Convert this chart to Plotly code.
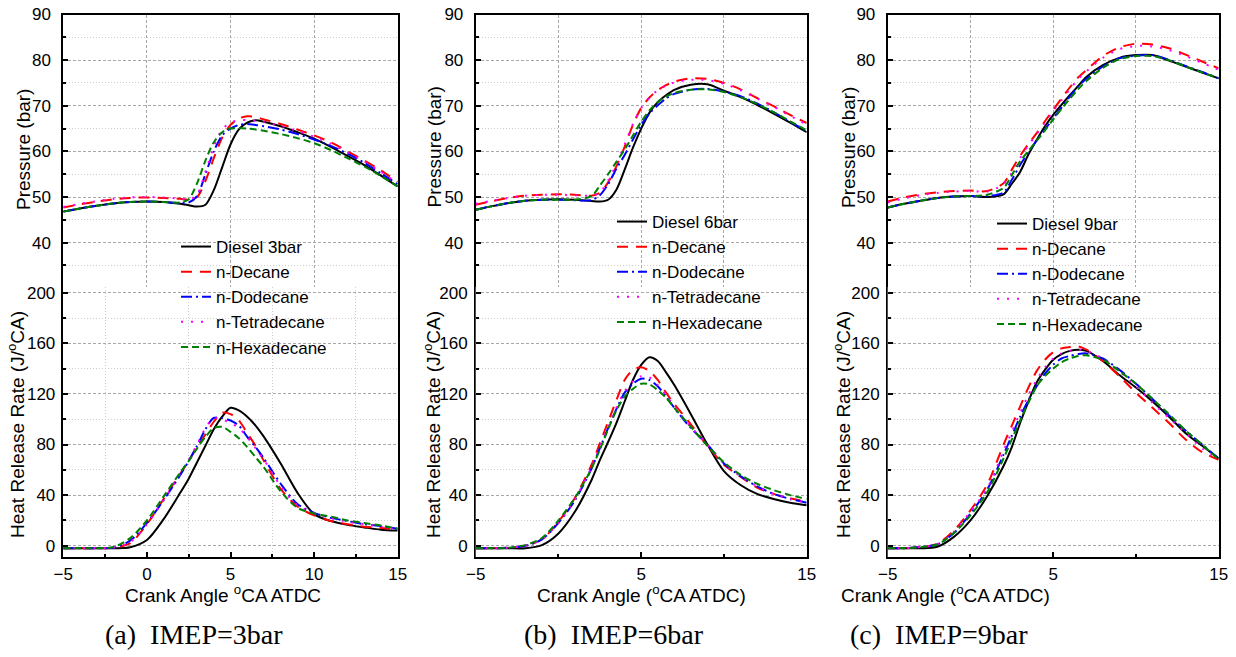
import plotly.graph_objects as go

W, H = 1236, 657

# ---------------- data ----------------
CRANK = [-5, -4, -3, -2, -1, 0, 1, 2, 2.5, 3, 3.5, 4, 4.5, 5, 5.5, 6, 6.5, 7, 8, 9, 10, 11, 12, 13, 14, 15]

SERIES = ["Diesel", "n-Decane", "n-Dodecane", "n-Tetradecane", "n-Hexadecane"]
DIESEL_LABELS = ["Diesel 3bar", "Diesel 6bar", "Diesel 9bar"]
CAPTIONS = ["(a)\u00a0\u00a0IMEP=3bar", "(b)\u00a0\u00a0IMEP=6bar", "(c)\u00a0\u00a0IMEP=9bar"]
XTITLES = ["Crank Angle <sup>o</sup>CA ATDC", "Crank Angle (<sup>o</sup>CA ATDC)", "Crank Angle (<sup>o</sup>CA ATDC)"]

# IMEP = 3 bar : pressure (bar)
P3_DIESEL = [46.8, 47.5, 48.1, 48.6, 48.9, 49.0, 48.9, 48.5, 48.2, 47.9, 48.3, 51.5, 56.5, 61.5, 64.8, 66.3, 66.8, 66.5, 65.5, 64.2, 62.8, 61.0, 59.0, 57.0, 54.7, 52.3]
P3_DECANE = [47.7, 48.4, 49.0, 49.5, 49.8, 49.9, 49.8, 49.6, 49.4, 50.0, 53.5, 58.5, 63.0, 65.8, 67.2, 67.7, 67.5, 67.0, 66.0, 64.8, 63.5, 62.0, 60.0, 58.0, 55.8, 53.3]
P3_DODECANE = [46.8, 47.5, 48.1, 48.6, 48.9, 49.0, 48.9, 48.7, 48.8, 50.2, 55.0, 60.0, 63.5, 65.0, 65.8, 66.0, 65.8, 65.5, 64.8, 63.8, 62.6, 61.2, 59.5, 57.5, 55.2, 52.8]
P3_TETRA = [47.8, 48.5, 49.1, 49.6, 49.9, 50.0, 49.9, 49.6, 49.4, 50.5, 55.5, 61.0, 64.8, 66.3, 66.8, 66.9, 66.7, 66.4, 65.6, 64.5, 63.2, 61.7, 59.8, 57.8, 55.5, 53.0]
P3_HEXA = [46.8, 47.5, 48.1, 48.6, 48.9, 49.0, 48.9, 48.8, 49.5, 53.0, 58.0, 62.0, 64.2, 65.0, 65.1, 65.0, 64.8, 64.5, 63.8, 62.9, 61.8, 60.3, 58.5, 56.7, 54.6, 52.3]
# IMEP = 3 bar : heat release rate (J/oCA)
H3_DIESEL = [-2, -2, -2, -2, -1.2, 4.5, 21, 42, 53, 66, 79, 92, 102, 109, 107, 102, 95, 86, 65, 42, 25, 19.5, 16.5, 14.5, 12.7, 12]
H3_DECANE = [-2, -2, -2, -1.5, 2, 17, 37, 57, 67, 78, 88, 98, 105, 104, 99, 89, 79, 67, 45, 31, 24, 19.5, 17, 15, 14, 13]
H3_DODECANE = [-2, -2, -2, -1.5, 4, 18, 36, 56, 67, 79, 92, 101, 101, 99, 95, 86, 78, 69, 49, 33, 26, 22, 19.5, 17, 15.5, 13.5]
H3_TETRA = [-2, -2, -2, -1.5, 3, 17, 36, 57, 68, 80, 93, 101, 100, 97, 93, 86, 77, 68, 47, 32, 26, 22, 19, 17, 15, 13]
H3_HEXA = [-2, -2, -2, -1, 6, 20, 39, 58, 67, 77, 86, 93, 94, 90, 85, 78, 70, 62, 43, 30, 25.5, 23, 20, 18, 16, 13.5]

# IMEP = 6 bar
P6_DIESEL = [47.2, 48.0, 48.7, 49.2, 49.4, 49.5, 49.4, 49.1, 49.0, 49.4, 51.6, 56.0, 60.8, 65.0, 68.5, 70.8, 72.3, 73.5, 74.6, 74.7, 73.3, 71.9, 70.2, 68.3, 66.3, 64.2]
P6_DECANE = [48.3, 49.1, 49.8, 50.3, 50.5, 50.6, 50.5, 50.3, 50.9, 53.2, 56.7, 61.0, 65.8, 69.5, 71.8, 73.4, 74.5, 75.3, 76.0, 75.9, 75.0, 73.6, 71.7, 69.9, 68.0, 66.2]
P6_DODECANE = [47.2, 48.0, 48.7, 49.2, 49.4, 49.4, 49.3, 49.3, 50.4, 52.8, 56.2, 59.2, 62.6, 65.8, 68.3, 70.1, 71.6, 72.6, 73.5, 73.7, 73.1, 72.1, 70.5, 68.6, 66.5, 64.4]
P6_TETRA = [48.5, 49.2, 49.8, 50.3, 50.5, 50.5, 50.4, 50.3, 51.0, 53.6, 57.2, 61.5, 66.0, 69.5, 71.8, 73.4, 74.4, 75.1, 75.7, 75.6, 74.8, 73.4, 71.6, 69.8, 67.8, 65.9]
P6_HEXA = [47.2, 48.0, 48.7, 49.2, 49.4, 49.4, 49.4, 50.2, 52.5, 55.0, 57.7, 60.4, 63.5, 66.5, 69.0, 70.8, 72.0, 72.8, 73.5, 73.6, 73.0, 71.9, 70.4, 68.6, 66.6, 64.6]
H6_DIESEL = [-2, -2, -2, -2, 0.5, 9.7, 27, 52, 67.6, 82, 97, 114, 131, 143, 149, 146, 137, 127, 104, 80, 59, 48, 41, 37, 34, 32]
H6_DECANE = [-2, -2, -1.5, 0, 5, 19, 38, 64, 81, 98, 115, 131, 139, 141, 138, 131, 121, 112, 96, 79, 64, 54.5, 46, 41, 37.5, 34.7]
H6_DODECANE = [-2, -2, -1.5, 0, 5, 18, 36, 61, 77, 93, 108, 121, 128, 132, 131, 126, 118, 109, 93, 80, 65, 55, 47, 41, 37, 34]
H6_TETRA = [-2, -2, -1.5, 0, 5, 18, 37, 62, 78, 94, 109, 122, 130, 134, 133, 127, 119, 110, 94, 80, 65, 55, 47, 41, 37, 34]
H6_HEXA = [-2, -2, -1.5, 0.5, 6, 20, 38, 61, 76, 92, 107, 118, 124, 128, 127.6, 123, 117, 109, 94, 79, 66, 56, 49, 44, 40, 37]

# IMEP = 9 bar
P9_DIESEL = [47.7, 48.5, 49.2, 49.8, 50.1, 50.2, 50.0, 50.6, 52.9, 55.5, 59.3, 62.5, 65.5, 68.0, 70.2, 72.3, 74.3, 76.3, 78.9, 80.5, 81.1, 81.1, 79.9, 78.6, 77.3, 76.0]
P9_DECANE = [49.0, 49.9, 50.6, 51.0, 51.3, 51.4, 51.3, 53.0, 56.0, 59.0, 61.6, 64.0, 66.6, 69.1, 71.6, 74.0, 76.2, 77.8, 80.9, 82.8, 83.6, 83.4, 82.6, 81.2, 79.7, 78.2]
P9_DODECANE = [47.7, 48.5, 49.2, 49.8, 50.1, 50.2, 50.2, 51.0, 53.8, 57.0, 59.8, 62.4, 64.8, 67.2, 69.6, 72.0, 74.2, 75.9, 78.6, 80.4, 81.0, 81.1, 80.1, 78.7, 77.4, 76.0]
P9_TETRA = [48.8, 49.7, 50.4, 50.9, 51.2, 51.3, 51.2, 52.8, 55.3, 58.5, 61.3, 63.8, 66.3, 68.8, 71.2, 73.6, 75.8, 77.5, 80.5, 82.4, 83.1, 83.0, 82.2, 80.9, 79.4, 77.9]
P9_HEXA = [47.7, 48.5, 49.2, 49.8, 50.1, 50.2, 50.5, 52.0, 54.8, 57.8, 60.1, 62.3, 64.6, 67.0, 69.3, 71.5, 73.6, 75.4, 78.3, 80.2, 80.9, 80.9, 80.0, 78.6, 77.3, 76.0]
H9_DIESEL = [-2, -2, -2, -0.8, 7, 20, 39, 63, 78, 97, 114, 129, 139, 147, 151.5, 154, 155, 154, 146, 135, 125, 114, 102, 89, 79, 69]
H9_DECANE = [-2, -2, -1, 1.5, 12, 28, 48, 80, 95, 110, 125, 138, 147, 153, 156, 157, 157.5, 155, 146, 134, 121, 109, 97, 84, 74, 68]
H9_DODECANE = [-2, -2, -1, 1, 10, 25.5, 44, 72, 87, 102, 115, 126, 136, 143, 148, 150, 151.5, 152, 148, 139, 128, 116, 103, 91, 80, 69]
H9_TETRA = [-2, -2, -1, 1.2, 11, 27, 45, 75, 90, 105, 119, 131, 141, 148, 152, 154, 155, 154, 148, 138, 126, 113, 101, 89, 77, 68]
H9_HEXA = [-2, -2, -1, 1, 10, 24, 42, 69, 84, 99, 113, 126, 134, 140, 145, 148, 150, 150.5, 147, 138, 128, 116, 104, 91, 80, 68]

PRESSURE = [
    [P3_DIESEL, P3_DECANE, P3_DODECANE, P3_TETRA, P3_HEXA],
    [P6_DIESEL, P6_DECANE, P6_DODECANE, P6_TETRA, P6_HEXA],
    [P9_DIESEL, P9_DECANE, P9_DODECANE, P9_TETRA, P9_HEXA],
]
HRR = [
    [H3_DIESEL, H3_DECANE, H3_DODECANE, H3_TETRA, H3_HEXA],
    [H6_DIESEL, H6_DECANE, H6_DODECANE, H6_TETRA, H6_HEXA],
    [H9_DIESEL, H9_DECANE, H9_DODECANE, H9_TETRA, H9_HEXA],
]

P_TICKS = [40, 50, 60, 70, 80, 90]
P_MINOR = [35, 45, 55, 65, 75, 85]
H_TICKS = [0, 40, 80, 120, 160, 200]
H_MINOR = [20, 60, 100, 140, 180]
X_TICKS = [[-5, 0, 5, 10, 15], [-5, 5, 15], [-5, 5, 15]]
X_MINOR = [[-2.5, 2.5, 7.5, 12.5], [0, 10], [0, 10]]

# ---------------- styles ----------------
COLORS = ["black", "#ff0000", "#0000ff", "#ff00ff", "#008000"]
DASHES = ["solid", "11px,8px", "11px,4px,2px,4px", "2px,8px", "7px,4px"]
SANS = "Liberation Sans, Arial, sans-serif"
SERIF = "Liberation Serif, Times New Roman, serif"

# plot-area geometry in pixels
PANEL_X = [(63.3, 397.7), (475.7, 806.7), (887.7, 1218.7)]
TOP_PX, BOT_PX, HRR_TOP_PX = 14.5, 557.0, 287.0

def fx(px):
    return px / W

def fy(py):
    return 1 - py / H

MAJOR_GRID = dict(gridcolor="#a8a8a8", griddash="3px,2px", gridwidth=1)
MINOR_GRID = dict(gridcolor="#cccccc", griddash="1px,2px", gridwidth=1)

fig = go.Figure()
layout = {}
annotations = []

for i in range(3):
    xp, yp = f"x{2*i+1}" if i else "x", f"y{2*i+1}" if i else "y"
    xh, yh = f"x{2*i+2}", f"y{2*i+2}"
    legend_id = "legend" if i == 0 else f"legend{i+1}"
    for s in range(5):
        name = DIESEL_LABELS[i] if s == 0 else SERIES[s]
        fig.add_trace(go.Scatter(
            x=CRANK, y=PRESSURE[i][s], mode="lines", name=name,
            line=dict(color=COLORS[s], width=2, dash=DASHES[s], shape="spline", smoothing=0.8),
            xaxis=xp, yaxis=yp, legend=legend_id, showlegend=True))
    for s in range(5):
        fig.add_trace(go.Scatter(
            x=CRANK, y=HRR[i][s], mode="lines", name=SERIES[s],
            line=dict(color=COLORS[s], width=2, dash=DASHES[s], shape="spline", smoothing=0.8),
            xaxis=xh, yaxis=yh, showlegend=False))

    dom = [fx(PANEL_X[i][0]), fx(PANEL_X[i][1])]
    xpk = "xaxis" if i == 0 else f"xaxis{2*i+1}"
    ypk = "yaxis" if i == 0 else f"yaxis{2*i+1}"
    xhk, yhk = f"xaxis{2*i+2}", f"yaxis{2*i+2}"

    layout[xpk] = dict(domain=dom, anchor=yp, range=[-5, 15], tickmode="array", tickvals=[0, 5, 10],
                       showticklabels=False, ticks="", showgrid=True, **MAJOR_GRID, automargin=False,
                       showline=True, mirror=True, linecolor="black", linewidth=2, zeroline=False)
    layout[ypk] = dict(domain=[fy(BOT_PX), fy(TOP_PX)], anchor=xp, range=[-28.9, 90], automargin=False,
                       tickmode="array", tickvals=P_TICKS, ticks="inside", ticklen=5, tickwidth=2,
                       tickcolor="black", showgrid=True, **MAJOR_GRID,
                       minor=dict(tickmode="array", tickvals=P_MINOR, ticks="inside", ticklen=3,
                                  tickwidth=2, tickcolor="black", showgrid=True, **MINOR_GRID),
                       showline=True, mirror=True, linecolor="black", linewidth=2, zeroline=False,
                       tickfont=dict(family=SANS, size=17, color="black"), ticklabelstandoff=7)
    layout[xhk] = dict(domain=dom, anchor=yh, range=[-5, 15], tickmode="array", tickvals=X_TICKS[i],
                       ticks="inside", ticklen=5, tickwidth=2, tickcolor="black", showgrid=False,
                       automargin=False,
                       minor=dict(tickmode="array", tickvals=X_MINOR[i], ticks="inside", ticklen=3,
                                  tickwidth=2, tickcolor="black", showgrid=(i == 0), **MINOR_GRID),
                       showline=True, linecolor="black", linewidth=2, zeroline=False,
                       tickfont=dict(family=SANS, size=17, color="black"), ticklabelstandoff=1)
    layout[yhk] = dict(domain=[fy(BOT_PX), fy(HRR_TOP_PX)], anchor=xh, range=[-8.9, 204.5],
                       automargin=False,
                       tickmode="array", tickvals=H_TICKS, ticks="inside", ticklen=5, tickwidth=2,
                       tickcolor="black", showgrid=True, **MAJOR_GRID,
                       minor=dict(tickmode="array", tickvals=H_MINOR, ticks="inside", ticklen=3,
                                  tickwidth=2, tickcolor="black", showgrid=True, **MINOR_GRID),
                       showline=False, zeroline=False,
                       tickfont=dict(family=SANS, size=17, color="black"), ticklabelstandoff=7)

LEG_POS = [(176, 229), (612, 204), (992, 206)]
for i in range(3):
    key = "legend" if i == 0 else f"legend{i+1}"
    layout[key] = dict(x=fx(LEG_POS[i][0]), y=fy(LEG_POS[i][1]), xanchor="left", yanchor="top",
                       bgcolor="rgba(0,0,0,0)", borderwidth=0, font=dict(family=SANS, size=17, color="black"),
                       itemwidth=30, tracegroupgap=0)

P_TITLE_POS = [(23, 150), (434.5, 147), (848, 148)]
H_TITLE_POS = [(16, 425), (432, 425), (842, 425)]
X_TITLE_POS = [(222.5, 594), (641.7, 594), (945, 594)]
CAP_POS = [(103, 634), (522, 634), (848, 634)]
for i in range(3):
    annotations.append(dict(text="Pressure (bar)", x=fx(P_TITLE_POS[i][0]), y=fy(P_TITLE_POS[i][1]),
                            xref="paper", yref="paper", showarrow=False, textangle=-90,
                            xanchor="center", yanchor="middle",
                            font=dict(family=SANS, size=19, color="black")))
    annotations.append(dict(text="Heat Release Rate (J/<sup>o</sup>CA)", x=fx(H_TITLE_POS[i][0]),
                            y=fy(H_TITLE_POS[i][1]), xref="paper", yref="paper", showarrow=False,
                            xanchor="center", yanchor="middle",
                            textangle=-90, font=dict(family=SANS, size=19, color="black")))
    annotations.append(dict(text=XTITLES[i], x=fx(X_TITLE_POS[i][0]), y=fy(X_TITLE_POS[i][1]),
                            xref="paper", yref="paper", showarrow=False,
                            xanchor="center", yanchor="middle",
                            font=dict(family=SANS, size=19, color="black")))
    annotations.append(dict(text=CAPTIONS[i], x=fx(CAP_POS[i][0]), y=fy(CAP_POS[i][1]),
                            xref="paper", yref="paper", showarrow=False, xanchor="left", yanchor="middle",
                            font=dict(family=SERIF, size=28, color="black")))

fig.update_layout(width=W, height=H, autosize=False,
                  margin=dict(l=0, r=0, t=0, b=0, pad=0, autoexpand=False),
                  paper_bgcolor="white", plot_bgcolor="white", annotations=annotations, **layout)

fig.write_html("out.html")
